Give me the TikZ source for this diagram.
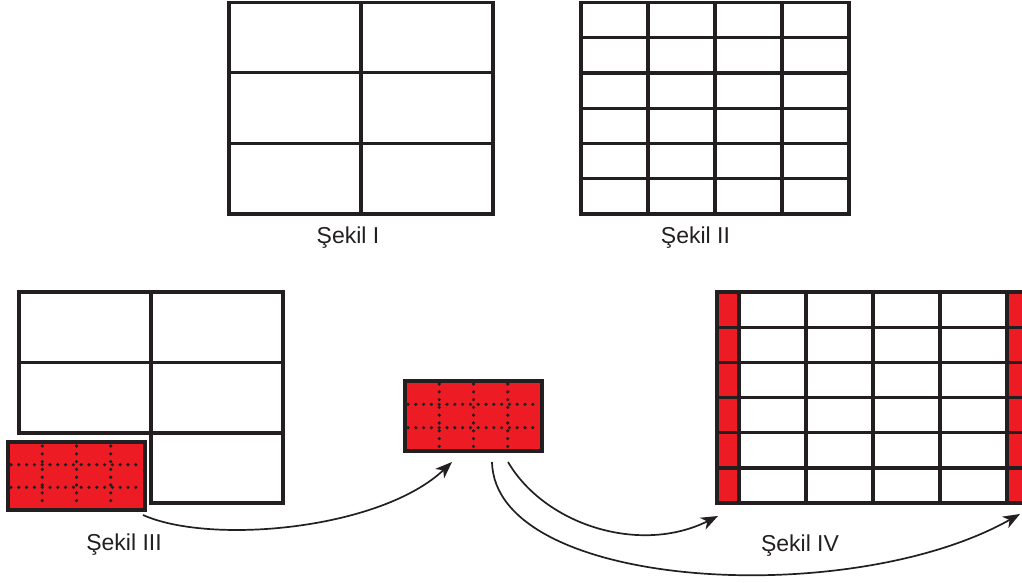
\documentclass[tikz,border=0pt]{standalone}
\usepackage{fontspec}
\setmainfont{Liberation Sans}
\usetikzlibrary{arrows.meta}
\definecolor{ink}{HTML}{231F20}
\definecolor{piecered}{HTML}{ED1C24}
\tikzset{
  gridline/.style={draw=ink, line width=3.3pt},
  dotline/.style={draw=ink, line width=3.6pt, line cap=round, dash pattern=on 0pt off 7.8pt},
  redpiece/.style={draw=ink, fill=piecered, line width=3.3pt, rectangle, inner sep=0pt, outer sep=0pt, anchor=north west},
  lbl/.style={font=\fontsize{23}{27}\selectfont, text=ink, anchor=base, inner sep=0pt},
  arr/.style={draw=ink, line width=1.7pt, -{Stealth[length=17pt, width=13pt, inset=5pt]}}
}
\begin{document}
\begin{tikzpicture}[x=1pt, y=-1pt]
\useasboundingbox (0,0) rectangle (1022,583);
\clip (0,0) rectangle (1022,583);

% Sekil I
\draw[gridline] (229,2.5) rectangle (493,214);
\draw[gridline] (361,2.5) -- (361,214);
\draw[gridline] (229,72.7) -- (493,72.7);
\draw[gridline] (229,143.3) -- (493,143.3);
\node[lbl] (l1) at (348,243) {Şekil I};

% Sekil II
\draw[gridline] (581,2.5) rectangle (849,214);
\foreach \x in {648,715,782} \draw[gridline] (\x,2.5) -- (\x,214);
\foreach \i in {1,...,5} \draw[gridline] (581,{2.5+35.25*\i}) -- (849,{2.5+35.25*\i});
\node[lbl] (l2) at (695.5,243) {Şekil II};

% Sekil III
\draw[gridline] (19,292) rectangle (283,433);
\draw[gridline] (151,292) -- (151,503);
\draw[gridline] (19,362.5) -- (283,362.5);
\draw[gridline] (151,433) rectangle (283,503);
\node[redpiece, minimum width=137pt, minimum height=68pt] (p3) at (8,442) {};
\foreach \x in {42.25,76.5,110.75} \draw[dotline] (\x,446) -- (\x,507);
\foreach \y in {464.7,487.3} \draw[dotline] (11,\y) -- (143,\y);
\node[lbl] (l3) at (124,550) {Şekil III};

% moved piece
\node[redpiece, minimum width=137pt, minimum height=70pt] (pm) at (405,381) {};
\foreach \x in {439.25,473.5,507.75} \draw[dotline] (\x,384) -- (\x,449);
\foreach \y in {404.3,427.7} \draw[dotline] (408,\y) -- (540,\y);

% Sekil IV
\fill[piecered] (717,292) rectangle (739,503);
\fill[piecered] (1007,292) rectangle (1029,503);
\draw[gridline] (717,292) rectangle (1029,503);
\foreach \x in {739,806,873,940,1007} \draw[gridline] (\x,292) -- (\x,503);
\foreach \i in {1,...,5} \draw[gridline] (717,{292+35.17*\i}) -- (1029,{292+35.17*\i});
\node[lbl] (l4) at (800,551) {Şekil IV};

% arrows
\coordinate (a1s) at (143,515);
\coordinate (a1e) at (452,462);
\coordinate (a2s) at (508,462);
\coordinate (a2e) at (718,516);
\coordinate (a3s) at (492,462);
\coordinate (a3e) at (1020,514);
\draw[arr] (a1s) .. controls (210,545) and (380,530) .. (a1e);
\draw[arr] (a2s) .. controls (545,525) and (640,555) .. (a2e);
\draw[arr] (a3s) .. controls (495,590) and (850,610) .. (a3e);
\end{tikzpicture}
\end{document}
